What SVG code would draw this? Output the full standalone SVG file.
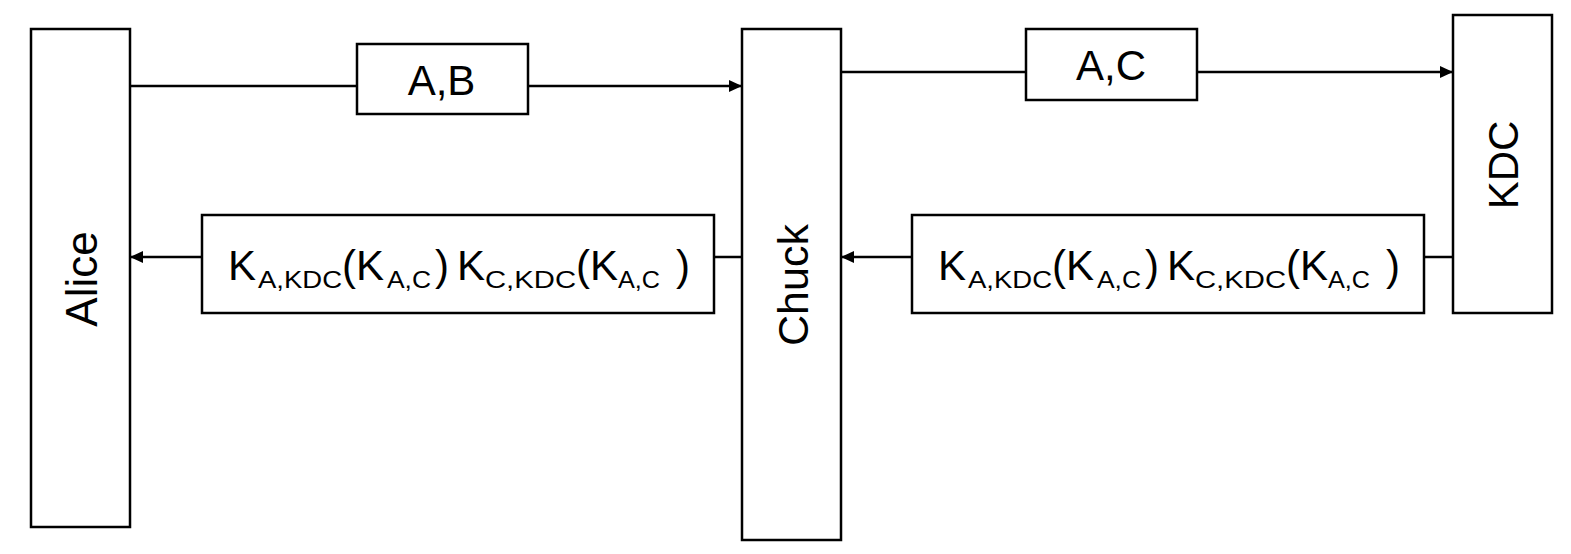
<svg xmlns="http://www.w3.org/2000/svg" width="1571" height="554" viewBox="0 0 1571 554">
<style>
  .box{fill:#fff;stroke:#000;stroke-width:2.5}
  .ln{fill:none;stroke:#000;stroke-width:2.4}
  text{font-family:"Liberation Sans",Arial,sans-serif;fill:#000}
  .big{font-size:42px}
  .sub{font-size:24px}
</style>
<defs>
  <marker id="arr" markerUnits="userSpaceOnUse" markerWidth="13" markerHeight="12" refX="13" refY="6" orient="auto">
    <path d="M0,0 L13,6 L0,12 z" fill="#000"/>
  </marker>
</defs>
<rect width="1571" height="554" fill="#fff"/>
<g id="connectors">
  <line class="ln" x1="130" y1="86" x2="742" y2="86" marker-end="url(#arr)"/>
  <line class="ln" x1="841" y1="72" x2="1453" y2="72" marker-end="url(#arr)"/>
  <line class="ln" x1="1453" y1="257" x2="841" y2="257" marker-end="url(#arr)"/>
  <line class="ln" x1="742" y1="257" x2="130" y2="257" marker-end="url(#arr)"/>
</g>
<g id="alice">
  <rect class="box" x="31" y="29" width="99" height="498"/>
  <text transform="translate(97,279) rotate(-90)" text-anchor="middle" font-size="44">Alice</text>
</g>
<g id="chuck">
  <rect class="box" x="742" y="29" width="99" height="511"/>
  <text transform="translate(808,285) rotate(-90)" text-anchor="middle" font-size="43">Chuck</text>
</g>
<g id="kdc">
  <rect class="box" x="1453" y="15" width="99" height="298"/>
  <text transform="translate(1518,165) rotate(-90)" text-anchor="middle" font-size="42">KDC</text>
</g>
<g id="label-ab">
  <rect class="box" x="357" y="44" width="171" height="70"/>
  <text class="big" x="441.5" y="95" text-anchor="middle">A,B</text>
</g>
<g id="label-ac">
  <rect class="box" x="1026" y="29" width="171" height="71"/>
  <text class="big" x="1111" y="80" text-anchor="middle">A,C</text>
</g>
<g id="label-reply-left">
  <rect class="box" x="202" y="215" width="512" height="98"/>
  <text class="big"><tspan x="228" y="280">K</tspan><tspan class="sub" x="258" y="288" textLength="84" lengthAdjust="spacingAndGlyphs">A,KDC</tspan><tspan x="342" y="280">(K</tspan><tspan class="sub" x="387" y="288" textLength="44" lengthAdjust="spacingAndGlyphs">A,C</tspan><tspan x="435" y="280">)</tspan><tspan x="457" y="280">K</tspan><tspan class="sub" x="485" y="288" textLength="91" lengthAdjust="spacingAndGlyphs">C,KDC</tspan><tspan x="576" y="280">(K</tspan><tspan class="sub" x="618" y="288" textLength="42" lengthAdjust="spacingAndGlyphs">A,C</tspan><tspan x="676" y="280">)</tspan></text>
</g>
<g id="label-reply-right">
  <rect class="box" x="912" y="215" width="512" height="98"/>
  <text class="big"><tspan x="938" y="280">K</tspan><tspan class="sub" x="968" y="288" textLength="84" lengthAdjust="spacingAndGlyphs">A,KDC</tspan><tspan x="1052" y="280">(K</tspan><tspan class="sub" x="1097" y="288" textLength="44" lengthAdjust="spacingAndGlyphs">A,C</tspan><tspan x="1145" y="280">)</tspan><tspan x="1167" y="280">K</tspan><tspan class="sub" x="1195" y="288" textLength="91" lengthAdjust="spacingAndGlyphs">C,KDC</tspan><tspan x="1286" y="280">(K</tspan><tspan class="sub" x="1328" y="288" textLength="42" lengthAdjust="spacingAndGlyphs">A,C</tspan><tspan x="1386" y="280">)</tspan></text>
</g>
</svg>
